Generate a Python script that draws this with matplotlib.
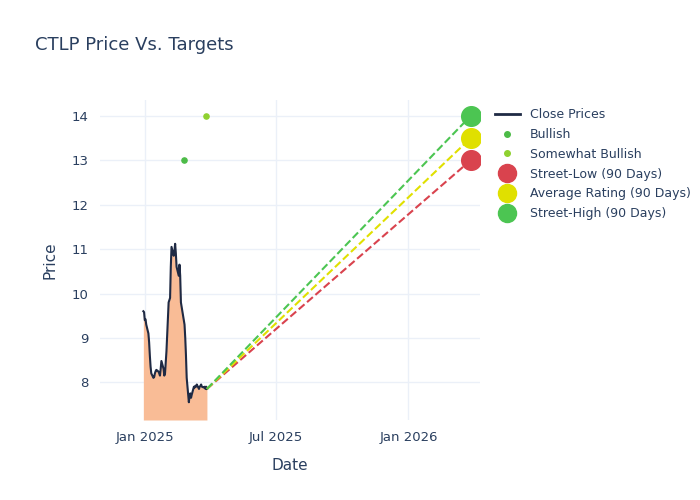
import pandas as pd
import numpy as np
import matplotlib.pyplot as plt
import matplotlib.dates as mdates
from matplotlib.lines import Line2D

# close prices (business days, 2024-12-30 .. 2025-03-28)
dates = pd.bdate_range('2024-12-30', '2025-03-28')
close = [9.6, 9.58,
         9.4, 9.42, 9.3, 9.1, 8.9, 8.6, 8.35, 8.2, 8.1, 8.12, 8.2, 8.25, 8.28, 8.24, 8.2, 8.15,
         8.3, 8.48, 8.3, 8.15, 8.2, 8.45, 8.7,
         9.8, 9.85, 9.9, 10.6, 11.05, 10.85, 10.95, 11.12, 10.9, 10.6, 10.4, 10.65, 10.4, 9.8,
         9.7, 9.4, 9.3, 9.0, 8.6, 8.1,
         7.55, 7.7, 7.75, 7.65, 7.72, 7.9, 7.88, 7.92, 7.9, 7.95, 7.85, 7.9, 7.92, 7.95, 7.9,
         7.88, 7.9, 7.85, 7.9, 7.85]

rating_dates = pd.to_datetime(['2025-02-24', '2025-03-27'])
rating_prices = [13, 14]
rating_names = ['Bullish', 'Somewhat Bullish']
rating_colors = ['#4CBB47', '#8FD12F']

target_date = pd.Timestamp('2026-03-28')
target_names = ['Street-Low (90 Days)', 'Average Rating (90 Days)', 'Street-High (90 Days)']
target_prices = [13, 13.5, 14]
target_colors = ['#D9434E', '#E0E000', '#4CC552']

text_c = '#2a3f5f'
fig = plt.figure(figsize=(7, 5), dpi=100)
ax = fig.add_axes([100/700, 80/500, 380/700, 320/500])
ymin = 7.15
ax.fill_between(dates, close, ymin, color='#F9BC96', lw=0)
ax.plot(dates, close, color='#1f2a44', lw=1.5)

for p, c in zip(target_prices, target_colors):
    ax.plot([dates[-1], target_date], [close[-1], p], '--', color=c, lw=1.5)
    ax.scatter([target_date], [p], s=200, color=c, zorder=5)
for d, p, c in zip(rating_dates, rating_prices, rating_colors):
    ax.scatter([d], [p], s=14, color=c, zorder=5)

ax.set_xlim(pd.Timestamp('2024-10-31'), pd.Timestamp('2026-04-10'))
ax.set_ylim(ymin, 14.36)
ax.xaxis.set_major_locator(mdates.MonthLocator(bymonth=[1, 7]))
ax.xaxis.set_major_formatter(mdates.DateFormatter('%b %Y'))
ax.set_yticks(range(8, 15))
ax.grid(color='#EBF0F8', lw=1)
ax.set_axisbelow(True)
for s in ax.spines.values():
    s.set_visible(False)
ax.tick_params(length=0, colors=text_c, labelsize=9.5, pad=8)
ax.set_xlabel('Date', color=text_c, fontsize=11, labelpad=10)
ax.set_ylabel('Price', color=text_c, fontsize=11, labelpad=10)
fig.text(35/700, 1 - 45/500, 'CTLP Price Vs. Targets', color=text_c, fontsize=13, va='center')

handles = [Line2D([], [], color='#1f2a44', lw=2)]
handles += [Line2D([], [], ls='', marker='o', ms=4, color=c) for c in rating_colors]
handles += [Line2D([], [], ls='', marker='o', ms=13, color=c) for c in target_colors]
labels = ['Close Prices'] + rating_names + target_names
fig.legend(handles, labels, loc='upper left', bbox_to_anchor=(490/700, 1 - 103/500),
           frameon=False, fontsize=9, labelcolor=text_c, handlelength=2,
           labelspacing=0.55, borderaxespad=0)
fig.savefig('out.png')
